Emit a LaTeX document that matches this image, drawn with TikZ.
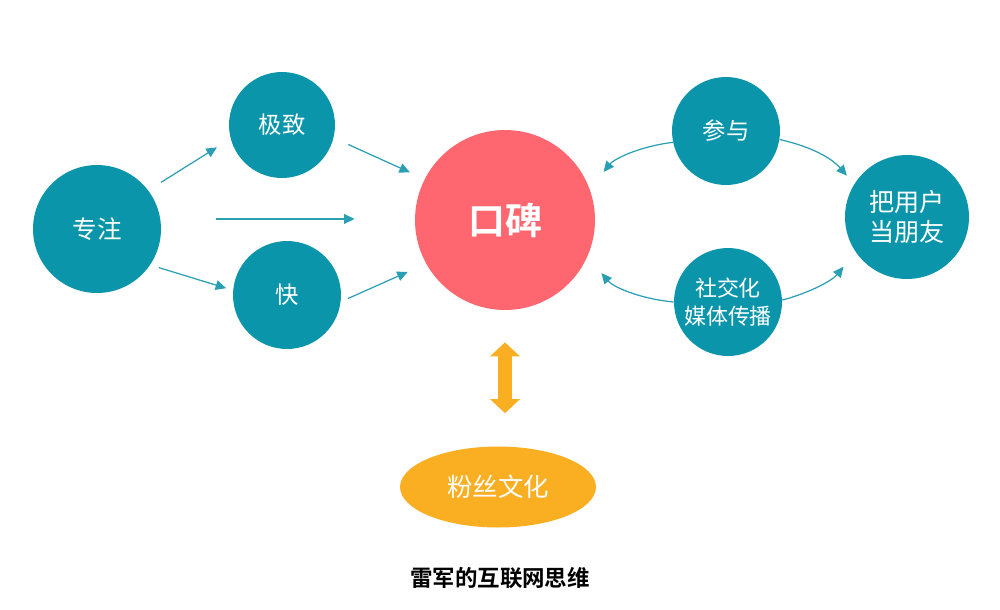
\documentclass[tikz,border=0pt]{standalone}
\usepackage{fontspec}
\setmainfont{Noto Sans CJK SC}
\newfontfamily\cjkbold{Noto Sans CJK SC Bold}
\usetikzlibrary{arrows.meta,calc,shapes.geometric}
\definecolor{teal1}{HTML}{0B95AB}
\definecolor{pink1}{HTML}{FE6670}
\definecolor{orange1}{HTML}{FAAE22}
\definecolor{line1}{HTML}{2A9FB4}
\begin{document}
\begin{tikzpicture}[x=0.02cm,y=-0.02cm,
  bub/.style={circle,fill=teal1,text=white,inner sep=0pt,align=center,font=\fontsize{13.3}{16}\selectfont},
  arr/.style={draw=line1,line width=0.7pt,-{Triangle[length=6pt,width=5.5pt]}},
  dbl/.style={draw=orange1,line width=0.28cm,{Triangle[length=0.28cm,width=0.58cm]}-{Triangle[length=0.28cm,width=0.58cm]}}]
\useasboundingbox (0,0) rectangle (1000,609);
\node[bub,minimum size=2.56cm,font=\fontsize{14}{17}\selectfont] (zz) at (97,229) {专注};
\node[bub,minimum size=2.12cm] (jz) at (282,125) {极致};
\node[bub,minimum size=2.16cm] (kuai) at (287,295) {快};
\node[circle,fill=pink1,text=white,inner sep=0pt,minimum size=3.6cm,font=\cjkbold\fontsize{21}{25}\selectfont] (kb) at (505,220) {口碑};
\node[bub,minimum size=2.16cm] (cy) at (726,131) {参与};
\node[bub,minimum size=2.16cm,font=\fontsize{12.5}{15.5}\selectfont] (sj) at (728,302) {社交化\\媒体传播};
\node[bub,minimum size=2.48cm,font=\fontsize{14.3}{17.5}\selectfont] (py) at (907,217) {把用户\\当朋友};
\node[ellipse,fill=orange1,text=white,inner sep=0pt,minimum width=3.92cm,minimum height=1.62cm,font=\fontsize{14.5}{17}\selectfont] (fs) at (498,487) {粉丝文化};
\node[font=\cjkbold\fontsize{12.8}{15}\selectfont] (title) at (500,578) {雷军的互联网思维};
% left arrows
\draw[arr,shorten <=0.3cm,shorten >=0.32cm] (zz.37) -- (jz.195);
\draw[arr,shorten <=1.1cm,shorten >=1.2cm] (zz.9) -- (zz.9 -| kb.west);
\draw[arr,shorten <=0.18cm,shorten >=0.14cm] (zz.-34) -- (kuai.175);
\draw[arr,shorten <=0.32cm,shorten >=0.32cm] (jz.-14) -- (kb.153);
\draw[arr,shorten <=0.15cm,shorten >=0.4cm] (kuai.-7) -- (kb.209);
% right curves
\draw[arr,shorten >=0.44cm] (cy.192) to[bend right=22] (kb.20);
\draw[arr,shorten >=0.22cm] (cy.-9) to[bend left=18] (py.148);
\draw[arr,shorten >=0.43cm] (sj.180) to[bend left=22] (kb.-24);
\draw[arr,shorten >=0.38cm] (sj.2) to[bend right=18] (py.214);
% double arrow
\draw[dbl,shorten <=0.64cm,shorten >=0.66cm] (kb.south) -- (kb.south |- fs.north);
\end{tikzpicture}
\end{document}
